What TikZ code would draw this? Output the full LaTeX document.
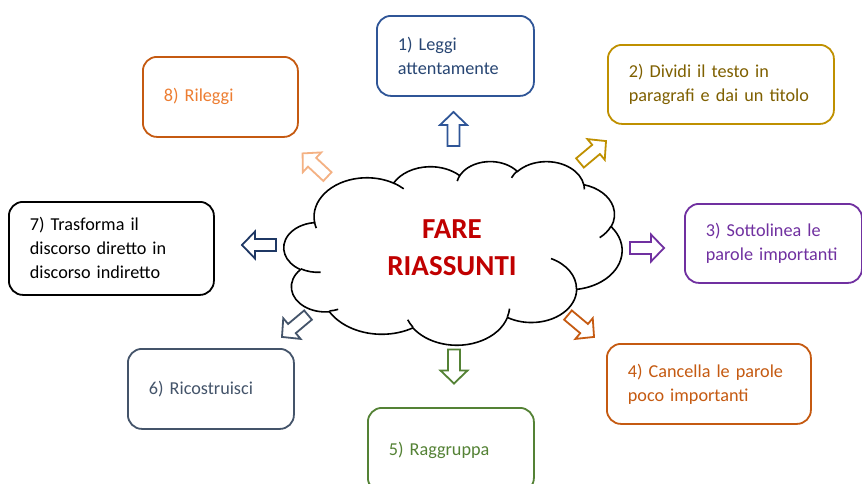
\documentclass[tikz,border=0pt]{standalone}
\usepackage{fontspec}
\setmainfont{Carlito}
\definecolor{cOneB}{RGB}{47,85,151}
\definecolor{cOneT}{RGB}{40,70,115}
\definecolor{cTwoB}{RGB}{191,144,0}
\definecolor{cTwoT}{RGB}{127,96,0}
\definecolor{cThree}{RGB}{112,48,160}
\definecolor{cFour}{RGB}{197,90,17}
\definecolor{cFive}{RGB}{84,130,53}
\definecolor{cSix}{RGB}{68,84,106}
\definecolor{cSevenA}{RGB}{31,56,100}
\definecolor{cEightT}{RGB}{237,125,49}
\definecolor{cEightA}{RGB}{244,177,131}
\definecolor{cRed}{RGB}{192,0,0}
\newcommand\carc[4]{arc[x radius=#1, y radius=#2, start angle={visang(#3,#1,#2)}, end angle={visang((#3)+(#4),#1,#2)}]}
\newcommand\blockarr[4]{%
  \begin{scope}[shift={(#2,#3)}, rotate=#4]
    \draw[blockarrow, draw=#1] (-17,-6) -- (4,-6) -- (4,-13.5) -- (17,0) -- (4,13.5) -- (4,6) -- (-17,6) -- cycle;
  \end{scope}}
\begin{document}
\begin{tikzpicture}[x=1pt,y=-1pt,
  declare function={parang(\a,\w,\h)=atan2(sin(\a)/\h,cos(\a)/\w);
    visang(\a,\w,\h)=parang(\a,\w,\h)+360*round((\a-parang(\a,\w,\h))/360);},
  box/.style={draw, rounded corners=14pt, line width=1.8pt, inner xsep=21pt, inner ysep=0pt,
    align=left, anchor=north west, font=\fontsize{18.2}{24}\selectfont},
  blockarrow/.style={line width=1.8pt, line join=miter, fill=white},
  cloudline/.style={line width=1.6pt, draw=black}]
\useasboundingbox (0,0) rectangle (862,483);
\fill[white] (0,0) rectangle (862,483);

% boxes
\node[box, draw=cOneB, text=cOneT, text width=115pt, minimum height=80pt] (b1) at (376,15) {\mbox{1) Leggi}\\\mbox{attentamente}};
\node[box, draw=cTwoB, text=cTwoT, text width=184pt, minimum height=79pt] (b2) at (607,44) {\mbox{2) Dividi il testo in}\\\mbox{paragrafi e dai un titolo}};
\node[box, draw=cThree, text=cThree, text width=135pt, minimum height=79pt] (b3) at (684,203) {\mbox{3) Sottolinea le}\\\mbox{parole importanti}};
\node[box, draw=cFour, text=cFour, text width=162pt, minimum height=80pt] (b4) at (606,343) {\mbox{4) Cancella le parole}\\\mbox{poco importanti}};
\node[box, draw=cFive, text=cFive, text width=124pt, minimum height=84pt] (b5) at (367,407) {\mbox{5) Raggruppa}};
\node[box, draw=cSix, text=cSix, text width=124pt, minimum height=80pt] (b6) at (127,348) {\mbox{6) Ricostruisci}};
\node[box, draw=black, text=black, text width=163pt, minimum height=93pt] (b7) at (8,201) {\mbox{7) Trasforma il}\\\mbox{discorso diretto in}\\\mbox{discorso indiretto}};
\node[box, draw=cFour, text=cEightT, text width=113pt, minimum height=80pt] (b8) at (142,56) {\mbox{8) Rileggi}};

% cloud
\begin{scope}[shift={(284,161)}, x=7.824pt, y=-4.25pt]
\draw[cloudline, fill=white] (3.900,14.370)
  \carc{6.753}{9.190}{-190.48748}{123.78053}
  \carc{5.333}{7.267}{-144.10238}{89.94523}
  \carc{4.365}{5.945}{-145.80792}{99.72302}
  \carc{4.857}{6.595}{-130.98607}{117.24173}
  \carc{5.333}{7.273}{-78.70888}{109.02692}
  \carc{6.775}{9.220}{-46.26725}{130.269}
  \carc{5.785}{7.867}{0.62502}{114.03333}
  \carc{6.752}{9.215}{22.4516}{115.17255}
  \carc{7.720}{10.543}{66.24263}{75.71102}
  \carc{4.360}{5.918}{-274.94208}{146.73557}
  \carc{4.345}{5.945}{-246.8285}{152.51885} -- cycle;
\draw[cloudline]
  (4.693,26.177) \carc{4.345}{5.945}{86.742}{26.4295}
  (6.928,34.899) \carc{4.360}{5.918}{73.61047}{11.44747}
  (16.478,39.090) \carc{6.752}{9.215}{137.62415}{14.0811}
  (28.827,34.751) \carc{6.752}{9.215}{6.45327}{15.99835}
  (34.129,22.954) \carc{5.785}{7.867}{-70.29235}{70.91737}
  (41.798,15.354) \carc{5.333}{7.273}{30.31803}{27.7515}
  (38.324,5.426) \carc{4.857}{6.595}{-13.74433}{14.8589}
  (29.078,3.952) \carc{4.857}{6.595}{-149.18145}{18.19537}
  (22.141,4.720) \carc{4.365}{5.945}{-163.49427}{17.68635}
  (14.000,5.192) \carc{6.753}{9.190}{-66.70695}{12.31935}
  (4.127,15.789) \carc{6.753}{9.190}{157.65435}{11.85817};
\end{scope}
\node[font=\bfseries\fontsize{29}{37}\selectfont, text=cRed, align=center] (title) at (452,248) {FARE\\RIASSUNTI};

% block arrows
\blockarr{cOneB}{453.5}{129}{90}
\blockarr{cTwoB}{593}{152}{40}
\blockarr{cThree}{647}{248}{0}
\blockarr{cFour}{581}{326}{-40}
\blockarr{cFive}{454}{366.5}{-90}
\blockarr{cSix}{295}{326}{220}
\blockarr{cSevenA}{259}{245}{180}
\blockarr{cEightA}{315}{165}{137}
\end{tikzpicture}
\end{document}
